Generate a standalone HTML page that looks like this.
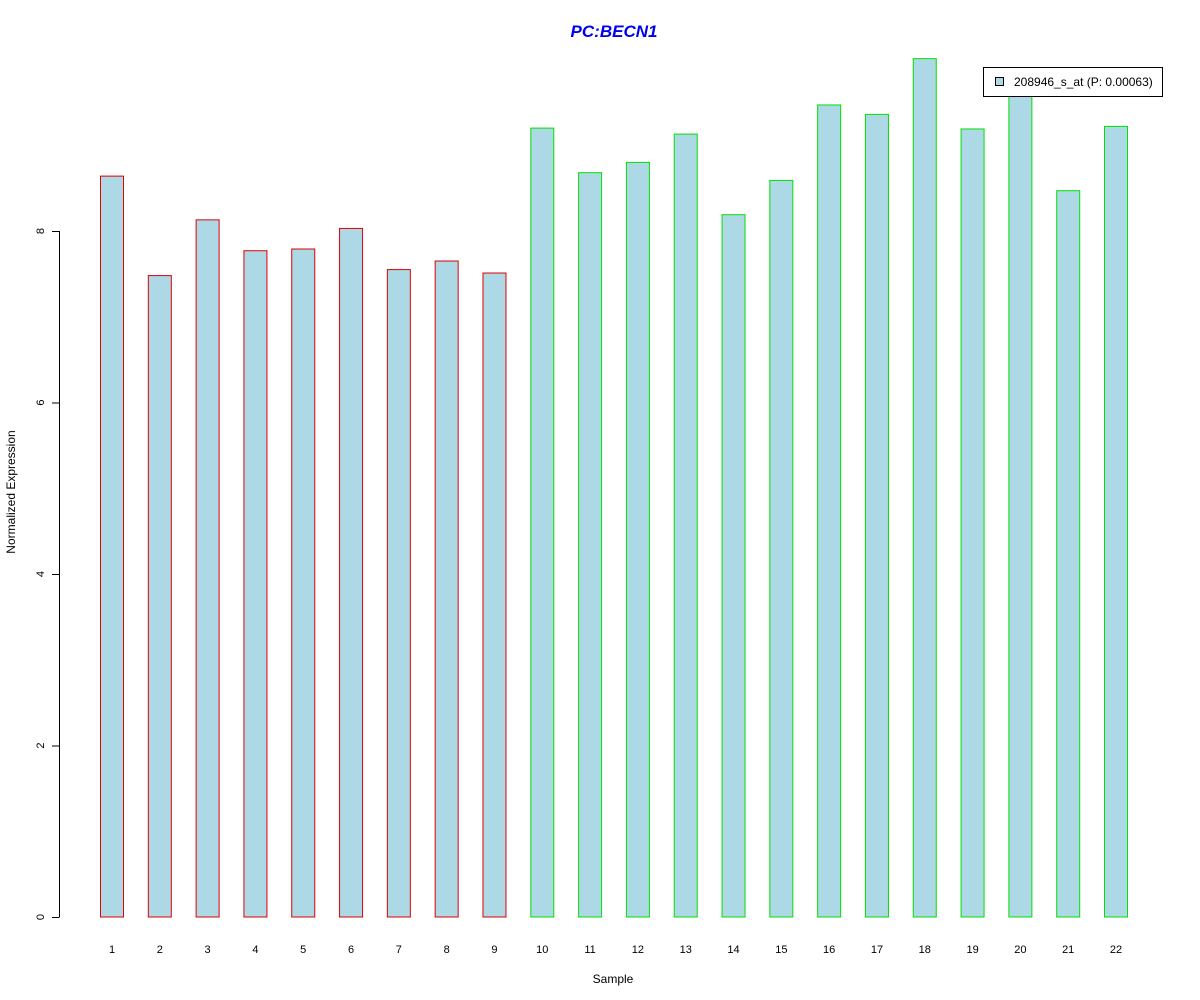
<!DOCTYPE html>
<html><head><meta charset="utf-8"><style>body{margin:0;background:#fff}svg{display:block;font-family:"Liberation Sans",Arial,sans-serif}</style></head>
<body>
<svg id="chart" width="1200" height="1000" xmlns="http://www.w3.org/2000/svg">
<text x="614" y="37" text-anchor="middle" font-size="17" font-weight="bold" font-style="italic" fill="#0000ee">PC:BECN1</text>
<text x="613" y="983" text-anchor="middle" font-size="12">Sample</text>
<text transform="translate(15,492) rotate(-90)" text-anchor="middle" font-size="12">Normalized Expression</text>
<g id="bars"></g><g id="yaxis"></g><g id="xlabels"></g>
<g>
<rect x="983.5" y="67.5" width="179" height="29" fill="#fff" stroke="#000"/>
<rect x="995.5" y="77.5" width="8" height="8" fill="#add8e6" stroke="#000"/>
<text x="1014" y="86" font-size="12">208946_s_at (P: 0.00063)</text>
</g>
</svg>
<script>
const categories=["1","2","3","4","5","6","7","8","9","10","11","12","13","14","15","16","17","18","19","20","21","22"];
const values=[8.64,7.48,8.13,7.77,7.79,8.03,7.55,7.65,7.51,9.20,8.68,8.80,9.13,8.19,8.59,9.47,9.36,10.01,9.19,9.62,8.47,9.22];
const groups=["red","red","red","red","red","red","red","red","red","green","green","green","green","green","green","green","green","green","green","green","green","green"];
const yTicks=[0,2,4,6,8];
const NS="http://www.w3.org/2000/svg";
const y=v=>917-v*85.75;
const x=i=>112+i*47.81;
const bars=document.getElementById('bars');
values.forEach((v,i)=>{
 const r=document.createElementNS(NS,'rect');
 
 
 r.setAttribute('x',x(i)-11.5);r.setAttribute('y',y(v));
 r.setAttribute('width',23);r.setAttribute('height',y(0)-y(v));
 r.setAttribute('fill','#add8e6');
 r.setAttribute('stroke',groups[i]==='red'?'#e00000':'#00e000');
 bars.appendChild(r);
 const t=document.createElementNS(NS,'text');
 
 
 t.setAttribute('x',x(i));t.setAttribute('y',953);
 t.setAttribute('text-anchor','middle');t.setAttribute('font-size','11');
 t.textContent=categories[i];
 document.getElementById('xlabels').appendChild(t);
});
const ya=document.getElementById('yaxis');
const ax=document.createElementNS(NS,'line');


ax.setAttribute('x1',59.5);ax.setAttribute('x2',59.5);
ax.setAttribute('y1',y(yTicks[0]));ax.setAttribute('y2',y(yTicks[yTicks.length-1]));
ax.setAttribute('stroke','#000');ya.appendChild(ax);
yTicks.forEach(v=>{
 const l=document.createElementNS(NS,'line');
 
 
 l.setAttribute('x1',52);l.setAttribute('x2',59.5);
 l.setAttribute('y1',y(v)+0.5);l.setAttribute('y2',y(v)+0.5);
 l.setAttribute('stroke','#000');ya.appendChild(l);
 const t=document.createElementNS(NS,'text');
 
 
 t.setAttribute('transform','translate(44,'+y(v)+') rotate(-90)');
 t.setAttribute('text-anchor','middle');t.setAttribute('font-size','11');
 t.textContent=v;ya.appendChild(t);
});
</script>
</body></html>
